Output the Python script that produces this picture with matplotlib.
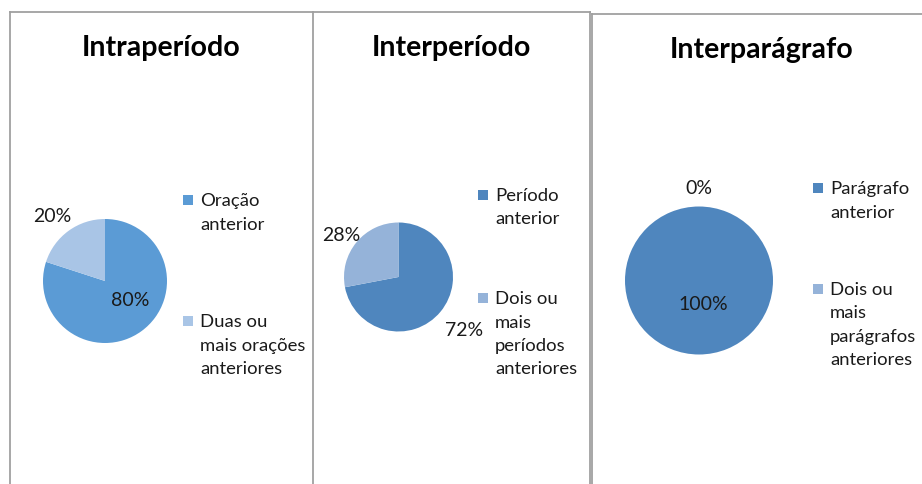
import matplotlib
matplotlib.use("Agg")
import matplotlib.pyplot as plt
from matplotlib.patches import Rectangle

# ---------------- data ----------------
titles = ["Intraperíodo", "Interperíodo", "Interparágrafo"]
values = [[80, 20], [72, 28], [100, 0]]
legend_labels = [
    ["Oração\nanterior", "Duas ou\nmais orações\nanteriores"],
    ["Período\nanterior", "Dois ou\nmais\nperíodos\nanteriores"],
    ["Parágrafo\nanterior", "Dois ou\nmais\nparágrafos\nanteriores"],
]
colors = [["#5B9BD5", "#A9C5E6"], ["#4F86BE", "#95B3D9"], ["#4F86BE", "#95B3D9"]]

# ---------------- layout (pixels, y from top) ----------------
W, H = 922, 485
pie_centers = [(105, 282), (398.5, 278), (699, 281.5)]
pie_radii = [62, 54.5, 74]
label_pos = [[(130, 300), (52, 217)], [(464, 330), (341, 236)], [(703, 305), (699, 188)]]
title_pos = [(161, 48), (451, 48), (762, 50)]
legend_sq_x = [188, 483, 818]
legend_first_y = [[201, 322], [196, 299], [189, 290]]
line_gap = 23.5
sq = 10
border_color = "#A0A0A0"

plt.rcParams['font.family'] = ['Lato', 'DejaVu Sans']

fig = plt.figure(figsize=(W / 100, H / 100), dpi=100)
ax = fig.add_axes([0, 0, 1, 1])

def Y(y):
    return H - y

for i in range(3):
    cx, cy = pie_centers[i]
    ax.pie(values[i], colors=colors[i], startangle=90, counterclock=False,
           center=(cx, Y(cy)), radius=pie_radii[i], frame=True,
           wedgeprops=dict(linewidth=0))
    for v, (lx, ly) in zip(values[i], label_pos[i]):
        ax.text(lx, Y(ly), f"{v}%", ha='center', va='center', fontsize=14, color='#1a1a1a')
    tx, ty = title_pos[i]
    ax.text(tx, Y(ty), titles[i], ha='center', va='center', fontsize=20.5,
            fontweight='bold', color='black')
    # legend
    for j, lab in enumerate(legend_labels[i]):
        y0 = legend_first_y[i][j]
        sx = legend_sq_x[i]
        ax.add_patch(Rectangle((sx - sq / 2, Y(y0) - sq / 2), sq, sq,
                               facecolor=colors[i][j], edgecolor='none'))
        for k, line in enumerate(lab.split("\n")):
            ax.text(sx + 12, Y(y0 + k * line_gap), line, ha='left', va='center',
                    fontsize=13.3, color='#1a1a1a')

# panel borders
lw = 1.3
ax.plot([10, 10], [Y(13), 0], color=border_color, lw=lw)
ax.plot([10, 313], [Y(13), Y(13)], color=border_color, lw=lw)
ax.plot([313, 313], [Y(13), 0], color=border_color, lw=lw)
ax.plot([313, 590], [Y(13), Y(13)], color=border_color, lw=lw)
ax.plot([590, 590], [Y(13), 0], color=border_color, lw=lw)
ax.plot([592, 592], [Y(15), 0], color=border_color, lw=lw)
ax.plot([592, W], [Y(15), Y(15)], color=border_color, lw=lw)

ax.set_xlim(0, W)
ax.set_ylim(0, H)
ax.set_aspect('auto')
ax.axis('off')

fig.savefig("out.png", dpi=100, facecolor='white')
